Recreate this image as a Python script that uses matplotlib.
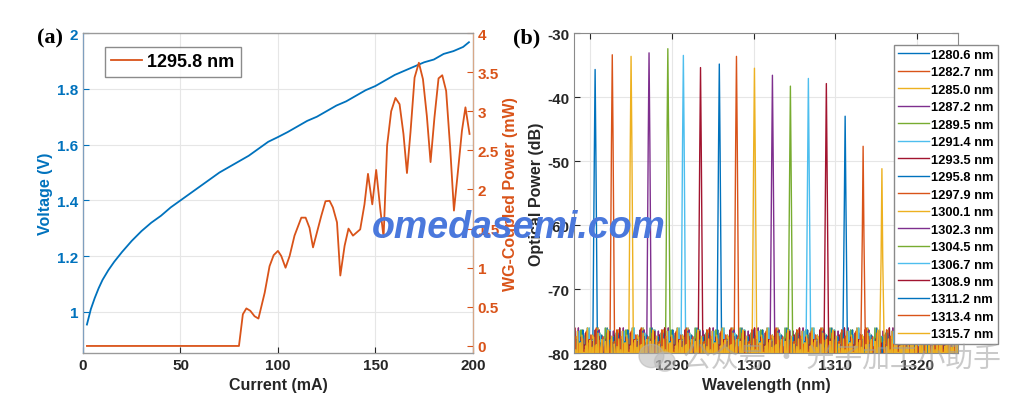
import numpy as np
import matplotlib.pyplot as plt
from matplotlib.patches import Ellipse
from matplotlib.ticker import FuncFormatter

plt.rcParams['font.family'] = ['Liberation Sans', 'DejaVu Sans']
plt.rcParams['font.weight'] = 'bold'
plt.rcParams['axes.labelweight'] = 'bold'

# ---- panel (a): voltage and WG-coupled power vs current
current_v = [2, 4, 6, 8, 10, 13, 16, 20, 25, 30, 35, 40, 45, 50, 55, 60, 65, 70, 75, 80,
             85, 90, 95, 100, 105, 110, 115, 120, 125, 130, 135, 140, 145, 150, 155, 160,
             165, 170, 175, 180, 185, 190, 195, 198]
voltage = [0.955, 1.01, 1.05, 1.085, 1.115, 1.15, 1.18, 1.215, 1.255, 1.29, 1.32, 1.345,
           1.375, 1.40, 1.425, 1.45, 1.475, 1.50, 1.52, 1.54, 1.56, 1.585, 1.61, 1.627,
           1.645, 1.665, 1.685, 1.70, 1.72, 1.74, 1.755, 1.775, 1.795, 1.81, 1.83, 1.85,
           1.865, 1.88, 1.895, 1.905, 1.925, 1.935, 1.95, 1.967]

current_p = [2, 80, 82, 83.8, 85.8, 88, 90, 93.2, 95.7, 97.8, 100, 101.7, 103.9, 106, 108.5,
             112, 114.2, 116.2, 118, 120, 122.2, 124.4, 126.5, 128.2, 130.3, 132, 134.2,
             136.2, 138.5, 142.2, 144.4, 146.2, 148.4, 150.4, 152.5, 154.2, 156, 158.1,
             160.3, 162.4, 164.4, 166.2, 168, 170.1, 172.3, 174.4, 176.4, 178.3, 180.3,
             182.4, 184.3, 186.3, 188.4, 190.3, 192.3, 194.4, 196.2, 198.3]
power_mw = [0, 0, 0.405, 0.48, 0.45, 0.38, 0.35, 0.68, 1.02, 1.16, 1.215, 1.15, 1.0, 1.15,
            1.41, 1.64, 1.64, 1.51, 1.26, 1.45, 1.66, 1.85, 1.855, 1.77, 1.58, 0.9, 1.28,
            1.50, 1.41, 1.49, 1.81, 2.2, 1.81, 2.25, 1.75, 1.39, 2.56, 3.0, 3.17, 3.09,
            2.71, 2.21, 2.73, 3.43, 3.62, 3.41, 2.94, 2.35, 2.92, 3.42, 3.46, 3.26, 2.52,
            1.73, 2.22, 2.75, 3.05, 2.71]

# ---- panel (b): spectra of the 17 channels
peak_wl = [1280.6, 1282.7, 1285.0, 1287.2, 1289.5, 1291.4, 1293.5, 1295.8, 1297.9,
           1300.1, 1302.3, 1304.5, 1306.7, 1308.9, 1311.2, 1313.4, 1315.7]
peak_db = [-35.7, -33.4, -33.65, -33.1, -32.45, -33.5, -35.4, -34.85, -33.65, -35.5,
           -36.6, -38.3, -37.1, -37.9, -43.0, -47.7, -51.2]
channel_labels = ['%.1f nm' % w for w in peak_wl]
# spiky noise-floor levels (dB), many below the -80 dB axis limit
noise_db = [-77.8, -84.0, -79.5, -86.5, -76.6, -82.5, -80.8, -78.4, -85.2, -77.2,
            -83.1, -79.9, -87.0, -78.9, -81.6, -76.1, -84.6, -80.2, -78.0, -85.8,
            -79.1, -82.9, -77.5, -86.1, -80.6, -78.7, -83.8, -76.9, -81.2, -85.0,
            -79.3, -77.9, -84.3, -80.9, -86.7, -78.2, -82.1, -79.7, -76.4, -85.5,
            -80.4, -83.5, -77.4, -81.9, -86.3, -78.6, -80.0, -84.9, -79.0, -82.7]

colors = ['#0072BD', '#D95319', '#EDB120', '#7E2F8E', '#77AC30', '#4DBEEE', '#A2142F']
blue, orange = colors[0], colors[1]

fig = plt.figure(figsize=(10.34, 4.02), dpi=100)
fmt = FuncFormatter(lambda v, p: '%g' % v)

# ================= (a)
ax1 = fig.add_axes([0.0803, 0.1194, 0.377, 0.796])
ax2 = ax1.twinx()
ax1.plot(current_v, voltage, color=blue, lw=1.3)
ax2.plot(current_p, power_mw, color=orange, lw=1.3, label='1295.8 nm')
ax1.set_xlim(0, 200)
ax1.set_ylim(0.853, 2)
ax2.set_ylim(-0.09, 4)
ax1.set_xticks([0, 50, 100, 150, 200])
ax1.set_yticks([1, 1.2, 1.4, 1.6, 1.8, 2])
ax2.set_yticks([0, 0.5, 1, 1.5, 2, 2.5, 3, 3.5, 4])
ax1.yaxis.set_major_formatter(fmt)
ax2.yaxis.set_major_formatter(fmt)
ax1.grid(True, color='#e6e6e6', lw=0.8)
ax1.set_axisbelow(True)
ax1.tick_params(axis='y', colors=blue, labelsize=11, direction='in', length=4)
ax1.tick_params(axis='x', colors='#262626', labelsize=11, direction='in', length=4)
ax2.tick_params(axis='y', colors=orange, labelsize=11, direction='in', length=4)
for s in ['top', 'bottom']:
    ax2.spines[s].set_color('#9a9a9a')
ax2.spines['left'].set_color('#7f9fbf')
ax2.spines['right'].set_color('#d8a888')
ax1.set_xlabel('Current (mA)', fontsize=11.5, color='#262626', labelpad=4)
ax1.set_ylabel('Voltage (V)', fontsize=11.5, color=blue, labelpad=3)
ax2.set_ylabel('WG-Coupled Power (mW)', fontsize=11.5, color=orange, labelpad=3)
leg1 = ax2.legend(loc='upper left', bbox_to_anchor=(0.056, 0.956), borderaxespad=0,
                  fontsize=13, fancybox=False, edgecolor='#6e6e6e', handlelength=1.7,
                  handletextpad=0.3, borderpad=0.35)
leg1.get_frame().set_linewidth(1.0)
fig.text(0.036, 0.905, '(a)', fontsize=16, fontweight='bold', family='Liberation Serif',
         ha='left', va='center')

# ================= (b)
ax3 = fig.add_axes([0.555, 0.1194, 0.3714, 0.796])
grid_wl = np.arange(1278.0, 1325.0, 0.11)
for k, (w0, p0) in enumerate(zip(peak_wl, peak_db)):
    floor = np.resize(np.roll(noise_db, 9 * k + k * k), grid_wl.size)
    keep = np.abs(grid_wl - w0) > 0.3
    px = [w0 - 0.28, w0 - 0.1, w0, w0 + 0.1, w0 + 0.28]
    py = [-79.0, p0 - 14, p0, p0 - 14, -79.0]
    x = np.concatenate([grid_wl[keep], px])
    y = np.concatenate([floor[keep], py])
    order = np.argsort(x)
    ax3.plot(x[order], y[order], color=colors[k % 7], lw=1.0, label=channel_labels[k])
ax3.set_xlim(1278, 1325)
ax3.set_ylim(-80, -30)
ax3.set_xticks([1280, 1290, 1300, 1310, 1320])
ax3.set_yticks([-80, -70, -60, -50, -40, -30])
ax3.yaxis.set_major_formatter(fmt)
ax3.grid(True, color='#e6e6e6', lw=0.8)
ax3.set_axisbelow(True)
ax3.tick_params(colors='#262626', labelsize=11, direction='in', length=4,
                top=True, right=True)
for s in ax3.spines.values():
    s.set_color('#8a8a8a')
ax3.set_xlabel('Wavelength (nm)', fontsize=11.5, color='#262626', labelpad=4)
ax3.set_ylabel('Optical Power (dB)', fontsize=11.5, color='#262626', labelpad=2)
leg3 = ax3.legend(loc='upper left', bbox_to_anchor=(0.8646, 0.8856),
                  bbox_transform=fig.transFigure, borderaxespad=0, fontsize=9.3,
                  fancybox=False, edgecolor='#8a8a8a', handlelength=2.4,
                  handletextpad=0.2, borderpad=0.3, labelspacing=0.42, framealpha=1)
leg3.get_frame().set_linewidth(1.0)
fig.text(0.496, 0.905, '(b)', fontsize=16, fontweight='bold', family='Liberation Serif',
         ha='left', va='center')

# ================= watermarks
fig.text(0.502, 0.432, 'omedasemi.com', fontsize=27, fontweight='bold', style='italic',
         color='#4a78dc', ha='center', va='center', zorder=20)
fig.patches.append(Ellipse((0.630, 0.112), 0.024, 0.058, transform=fig.transFigure,
                           color='#b0b0b0', alpha=0.5, zorder=19))
fig.patches.append(Ellipse((0.643, 0.098), 0.020, 0.048, transform=fig.transFigure,
                           color='#b8b8b8', alpha=0.5, zorder=19))
fig.text(0.661, 0.105, '公众号 · 光子加工小助手', fontsize=20, color='#a0a0a0', alpha=0.55,
         family=['Noto Sans CJK SC', 'DejaVu Sans'], fontweight='normal',
         ha='left', va='center', zorder=20)

fig.savefig('out.png', dpi=100)
